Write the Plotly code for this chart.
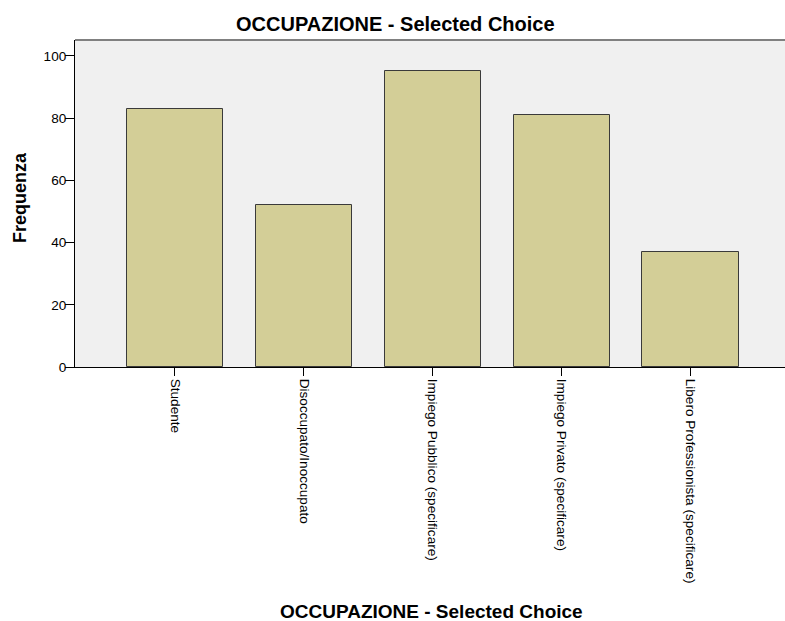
import plotly.graph_objects as go

categories = ["Studente", "Disoccupato/Inoccupato", "Impiego Pubblico (specificare)",
              "Impiego Privato (specificare)", "Libero Professionista (specificare)"]
values = [83, 52, 95, 81, 37]
y_ticks = [0, 20, 40, 60, 80, 100]

W, H = 785, 621
L, R, T, B = 75, 0, 40, 254
pw = W - L - R
ph = H - T - B

fig = go.Figure()
fig.add_trace(go.Bar(
    x=list(range(len(categories))), y=values, width=0.75,
    marker=dict(color="#D3CE97", line=dict(color="#3a3a3a", width=1)),
    hoverinfo="skip",
))

fig.update_layout(
    width=W, height=H,
    margin=dict(l=L, r=R, t=T, b=B),
    paper_bgcolor="white", plot_bgcolor="#F0F0F0",
    showlegend=False,
    font=dict(family="Liberation Sans, Arial, sans-serif", size=13.6, color="black"),
    bargap=0,
    xaxis=dict(
        range=[-0.775, 4.73], tickmode="array", tickvals=list(range(len(categories))),
        ticktext=categories, tickangle=90, ticks="outside", ticklen=8, tickwidth=1,
        tickcolor="black", showline=True, linecolor="black", linewidth=1,
        showgrid=False, zeroline=False, tickfont=dict(size=13.6),
        ticklabelstandoff=0,
    ),
    yaxis=dict(
        range=[0, 105.1], tickmode="array", tickvals=y_ticks, ticks="outside",
        ticklen=9, tickwidth=1, tickcolor="black", showline=True, linecolor="black",
        linewidth=1, showgrid=False, zeroline=False, tickfont=dict(size=13.6),
        ticklabelstandoff=-4,
    ),
    shapes=[dict(type="line", xref="paper", yref="paper", x0=0, x1=1, y0=1, y1=1,
                 line=dict(color="#808080", width=2))],
    annotations=[
        dict(text="<b>OCCUPAZIONE - Selected Choice</b>", xref="paper", yref="paper",
             x=(395 - L) / pw, y=1 + (T - 24) / ph, xanchor="center", yanchor="middle",
             showarrow=False, font=dict(size=20)),
        dict(text="<b>OCCUPAZIONE - Selected Choice</b>", xref="paper", yref="paper",
             x=(431 - L) / pw, y=-(611 - (T + ph)) / ph, xanchor="center", yanchor="middle",
             showarrow=False, font=dict(size=19)),
        dict(text="<b>Frequenza</b>", xref="paper", yref="paper",
             x=(20 - L) / pw, y=(T + ph - 198) / ph, xanchor="center", yanchor="middle",
             textangle=-90, showarrow=False, font=dict(size=18)),
    ],
)

fig.write_html("out.html", config={"displayModeBar": False},
               post_script="document.body.style.margin='0';")
